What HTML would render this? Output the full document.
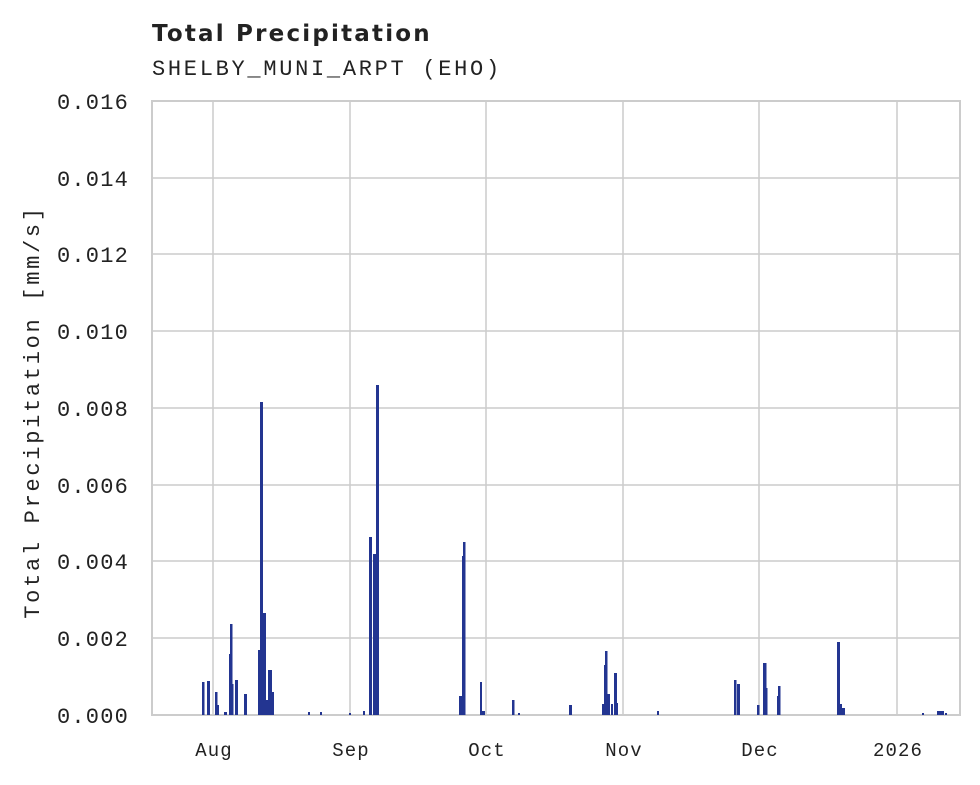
<!DOCTYPE html>
<html><head><meta charset="utf-8"><style>
body{margin:0;background:#fff;width:980px;height:780px;overflow:hidden}
svg text{font-family:"Liberation Mono",monospace;fill:#222}
</style></head><body>
<svg width="980" height="780" xmlns="http://www.w3.org/2000/svg">
<text x="152" y="41" style="font-family:'DejaVu Sans',sans-serif;font-weight:bold;font-size:23px" letter-spacing="2.2">Total Precipitation</text>
<text x="152" y="75" font-size="22" letter-spacing="2.7">SHELBY_MUNI_ARPT (EHO)</text>
<g stroke="#ccc" stroke-width="1.5">
<line x1="152" x2="960" y1="101" y2="101"/><line x1="152" x2="960" y1="178" y2="178"/><line x1="152" x2="960" y1="254" y2="254"/><line x1="152" x2="960" y1="331" y2="331"/><line x1="152" x2="960" y1="408" y2="408"/><line x1="152" x2="960" y1="485" y2="485"/><line x1="152" x2="960" y1="561" y2="561"/><line x1="152" x2="960" y1="638" y2="638"/>
<line x1="213" x2="213" y1="101" y2="715"/><line x1="350" x2="350" y1="101" y2="715"/><line x1="486" x2="486" y1="101" y2="715"/><line x1="623" x2="623" y1="101" y2="715"/><line x1="759" x2="759" y1="101" y2="715"/><line x1="897" x2="897" y1="101" y2="715"/>
</g>
<rect x="152" y="101" width="808" height="614" fill="none" stroke="#ccc" stroke-width="2"/>
<g fill="#233591">
<rect x="202" y="682" width="2.5" height="33"/><rect x="207" y="681" width="3" height="34"/><rect x="215" y="692" width="2.5" height="23"/><rect x="217" y="705" width="2" height="10"/>
<rect x="224" y="712" width="3" height="3"/><rect x="229" y="654" width="1.5" height="61"/><rect x="230" y="624" width="2.5" height="91"/><rect x="232" y="684" width="1.5" height="31"/><rect x="235" y="680" width="3" height="35"/>
<rect x="244" y="694" width="3" height="21"/><rect x="258" y="650" width="2" height="65"/><rect x="260" y="402" width="3" height="313"/><rect x="263" y="613" width="3" height="102"/><rect x="266" y="700" width="3" height="15"/><rect x="268" y="670" width="4" height="45"/><rect x="272" y="692" width="2" height="23"/>
<rect x="308" y="712" width="2" height="3"/><rect x="320" y="712" width="2" height="3"/><rect x="349" y="713" width="2" height="2"/><rect x="363" y="711" width="2" height="4"/>
<rect x="369" y="537" width="3" height="178"/><rect x="373" y="554" width="3" height="161"/><rect x="376" y="385" width="3" height="330"/>
<rect x="459" y="696" width="3" height="19"/><rect x="462" y="556" width="1.5" height="159"/><rect x="463" y="542" width="2.5" height="173"/>
<rect x="480" y="682" width="2" height="33"/><rect x="482" y="711" width="3" height="4"/><rect x="512" y="700" width="2.5" height="15"/><rect x="518" y="713" width="2" height="2"/>
<rect x="569" y="705" width="3" height="10"/><rect x="602" y="704" width="2" height="11"/><rect x="604" y="665" width="1.5" height="50"/><rect x="605" y="651" width="2.5" height="64"/><rect x="607" y="694" width="3" height="21"/><rect x="611" y="704" width="2" height="11"/><rect x="614" y="673" width="3" height="42"/><rect x="616" y="703" width="2" height="12"/>
<rect x="657" y="711" width="2" height="4"/><rect x="734" y="680" width="2.5" height="35"/><rect x="737" y="684" width="3" height="31"/><rect x="757" y="705" width="2.5" height="10"/><rect x="763" y="663" width="3.5" height="52"/><rect x="766" y="688" width="1.5" height="27"/><rect x="777" y="696" width="2" height="19"/><rect x="778" y="686" width="2.5" height="29"/>
<rect x="837" y="642" width="3" height="73"/><rect x="840" y="704" width="2" height="11"/><rect x="842" y="708" width="3" height="7"/>
<rect x="922" y="713" width="2" height="2"/><rect x="937" y="711" width="7" height="4"/><rect x="945" y="713" width="2" height="2"/>
</g>
<g font-size="22" text-anchor="end" letter-spacing="1.2">
<text x="129" y="723">0.000</text><text x="129" y="646">0.002</text><text x="129" y="569">0.004</text><text x="129" y="493">0.006</text><text x="129" y="416">0.008</text><text x="129" y="339">0.010</text><text x="129" y="262">0.012</text><text x="129" y="186">0.014</text><text x="129" y="109">0.016</text>
</g>
<g font-size="19" text-anchor="middle" letter-spacing="1.1">
<text x="214" y="756">Aug</text><text x="351" y="756">Sep</text><text x="487" y="756">Oct</text><text x="624" y="756">Nov</text><text x="760" y="756">Dec</text><text x="898" y="756">2026</text>
</g>
<text transform="translate(39,412) rotate(-90)" text-anchor="middle" font-size="22" letter-spacing="2.7">Total Precipitation [mm/s]</text>
</svg>
</body></html>
